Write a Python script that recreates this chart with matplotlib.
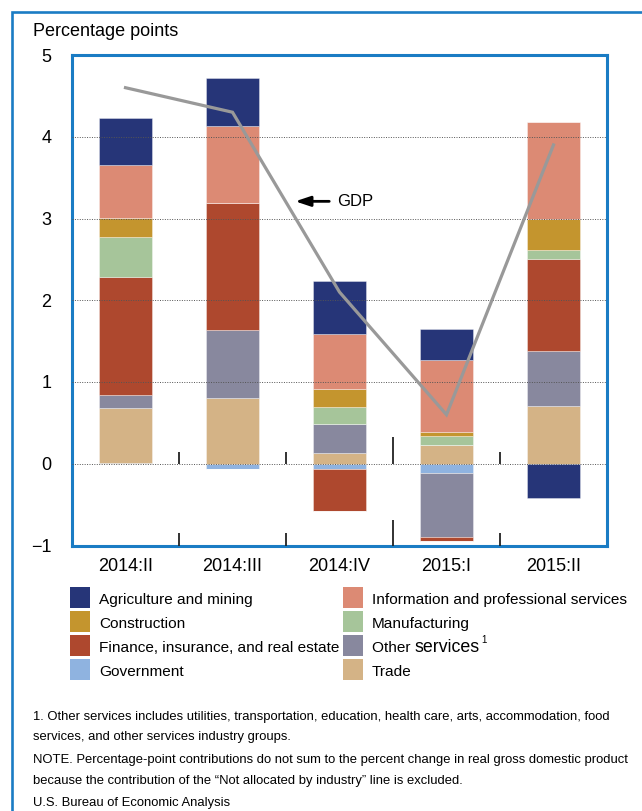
import matplotlib
matplotlib.use("Agg")
import matplotlib.pyplot as plt
from matplotlib.patches import Rectangle
import numpy as np

# ---- data -------------------------------------------------------------
quarters = ["2014:II", "2014:III", "2014:IV", "2015:I", "2015:II"]

agriculture = [0.57, 0.59, 0.65, 0.38, -0.42]
construction = [0.24, 0.00, 0.22, 0.05, 0.39]
finance = [1.44, 1.56, -0.51, -0.05, 1.13]
government = [0.01, -0.06, -0.07, -0.11, 0.00]
information = [0.65, 0.94, 0.68, 0.88, 1.18]
manufacturing = [0.49, 0.00, 0.20, 0.11, 0.10]
other_services = [0.16, 0.82, 0.36, -0.79, 0.67]
trade = [0.67, 0.81, 0.13, 0.23, 0.71]

gdp = [4.6, 4.3, 2.1, 0.6, 3.9]

yticks = [-1, 0, 1, 2, 3, 4, 5]
ytick_labels = ["\u22121", "0", "1", "2", "3", "4", "5"]

# ---- style ------------------------------------------------------------
BLUE = "#1a7cc4"
colors = {
    "Agriculture and mining": "#263578",
    "Construction": "#c4952e",
    "Finance, insurance, and real estate": "#ae482e",
    "Government": "#8fb3e0",
    "Information and professional services": "#dc8a74",
    "Manufacturing": "#a6c59a",
    "Other services": "#88889e",
    "Trade": "#d4b386",
}
# stacking order, from the zero line outward
stack = [
    ("Government", government),
    ("Trade", trade),
    ("Other services", other_services),
    ("Finance, insurance, and real estate", finance),
    ("Manufacturing", manufacturing),
    ("Construction", construction),
    ("Information and professional services", information),
    ("Agriculture and mining", agriculture),
]

REG = ["Liberation Sans", "DejaVu Sans"]
plt.rcParams["font.family"] = REG

W, H = 642, 811
fig = plt.figure(figsize=(W / 100, H / 100), dpi=100)
renderer = fig.canvas.get_renderer()


def fx(x):
    return x / W


def fy(y):
    return 1 - y / H


# outer frame
fig.add_artist(Rectangle((fx(12), -0.05), 1.2, fy(12) + 0.05, fill=False,
                         edgecolor=BLUE, linewidth=1.9,
                         transform=fig.transFigure))

ax = fig.add_axes([fx(72), fy(545.5), fx(607) - fx(72), fy(55) - fy(545.5)])

x = np.arange(len(quarters))
pos_bottom = np.zeros(len(quarters))
neg_bottom = np.zeros(len(quarters))
for name, vals in stack:
    v = np.array(vals, dtype=float)
    pos = np.where(v > 0, v, 0)
    neg = np.where(v < 0, v, 0)
    ax.bar(x, pos, 0.5, bottom=pos_bottom, color=colors[name],
           edgecolor=(1, 1, 1, 0.5), linewidth=0.5, zorder=2)
    ax.bar(x, neg, 0.5, bottom=neg_bottom, color=colors[name],
           edgecolor=(1, 1, 1, 0.5), linewidth=0.5, zorder=2)
    pos_bottom += pos
    neg_bottom += neg

# dotted reference lines
for yv in [0, 1, 2, 3, 4]:
    ax.axhline(yv, color="#555555", linestyle=(0, (1, 1.5)), linewidth=0.7,
               zorder=3)

# GDP line
ax.plot(x, gdp, color="#999999", linewidth=2.3, zorder=4,
        solid_joinstyle="miter")
ax.annotate("", xy=(1.56, 3.21), xytext=(1.93, 3.21),
            arrowprops=dict(arrowstyle="-|>,head_length=0.9,head_width=0.3",
                            color="black", lw=2.0), zorder=5)
ax.text(1.98, 3.21, "GDP", fontsize=12, va="center", ha="left", zorder=5)

# quarter separators; the longer one marks the change of year
for b in [0.5, 1.5, 2.5, 3.5]:
    h = 0.33 if b == 2.5 else 0.14
    hb = 0.31 if b == 2.5 else 0.15
    ax.plot([b, b], [0, h], color="#222222", lw=1.3, zorder=3,
            solid_capstyle="butt")
    ax.plot([b, b], [-1, -1 + hb], color="#222222", lw=1.3, zorder=3,
            solid_capstyle="butt")

ax.set_xlim(-0.5, 4.5)
ax.set_ylim(-1, 5)
ax.set_yticks(yticks)
ax.set_yticklabels(ytick_labels)
ax.set_xticks(x)
ax.set_xticklabels(quarters)
ax.tick_params(axis="both", length=0, labelsize=13)
ax.tick_params(axis="y", pad=15)
ax.tick_params(axis="x", pad=9)
for s in ax.spines.values():
    s.set_color(BLUE)
    s.set_linewidth(2.2)

fig.text(fx(33), fy(31), "Percentage points", fontsize=13, va="center",
         ha="left")

# legend
legend_cols = [
    ["Agriculture and mining", "Construction",
     "Finance, insurance, and real estate", "Government"],
    ["Information and professional services", "Manufacturing",
     "Other services", "Trade"],
]
col_x = [70, 343]
row_y = [598, 622, 646, 670]
LFS = 11.1
for ci, names in enumerate(legend_cols):
    for ri, name in enumerate(names):
        sx, sy = col_x[ci], row_y[ri]
        fig.add_artist(Rectangle((fx(sx), fy(sy + 10)), fx(20), 21 / H,
                                 facecolor=colors[name], edgecolor="none",
                                 transform=fig.transFigure))
        base = fy(sy + 6)
        if name == "Other services":
            t = fig.text(fx(sx + 29), base, "Other ", fontsize=LFS,
                         va="baseline", ha="left")
            bb = t.get_window_extent(renderer)
            t2 = fig.text(bb.x1 / W, base, "services", fontsize=12.8,
                          va="baseline", ha="left")
            bb2 = t2.get_window_extent(renderer)
            fig.text(bb2.x1 / W + 0.002, fy(sy - 3), "1", fontsize=7,
                     va="baseline", ha="left")
        else:
            fig.text(fx(sx + 29), base, name, fontsize=LFS, va="baseline",
                     ha="left")

# notes
notes = [
    (717, "1. Other services includes utilities, transportation, education, "
          "health care, arts, accommodation, food"),
    (737, "services, and other services industry groups."),
    (760, "NOTE. Percentage-point contributions do not sum to the percent "
          "change in real gross domestic product"),
    (781, "because the contribution of the \u201cNot allocated by industry\u201d "
          "line is excluded."),
    (803, "U.S. Bureau of Economic Analysis"),
]
for yy, txt in notes:
    fig.text(fx(33), fy(yy), txt, fontsize=9.4, va="center", ha="left")

fig.savefig("out.png", dpi=100)
